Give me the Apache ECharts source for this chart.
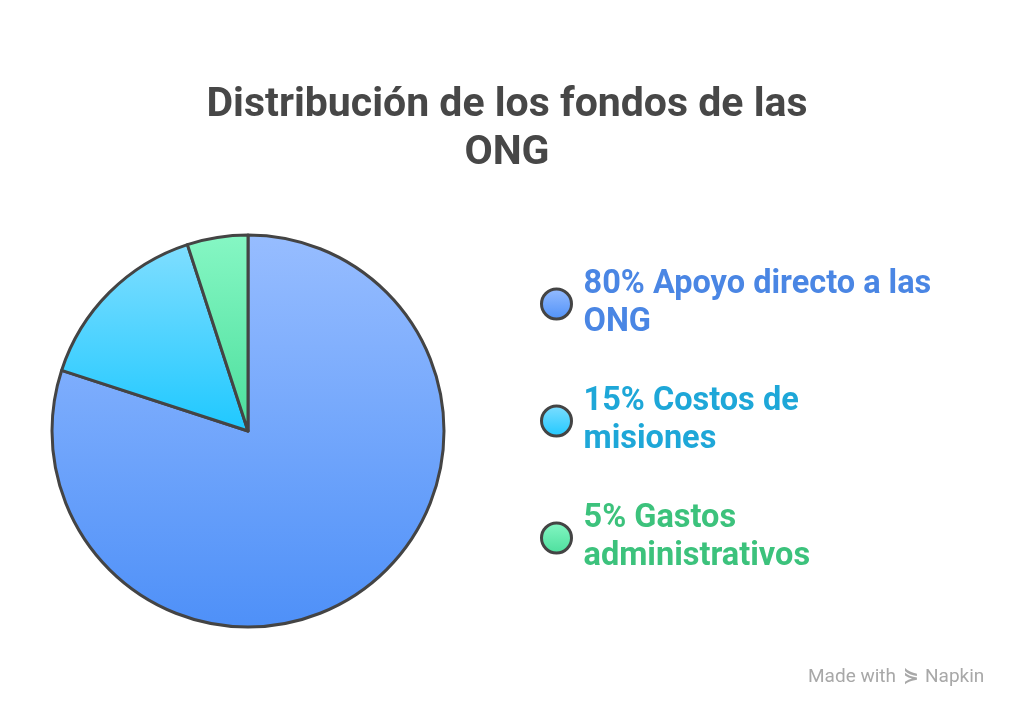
<!DOCTYPE html>
<html><head><meta charset="utf-8">
<script src="https://cdn.jsdelivr.net/npm/echarts@6/dist/echarts.min.js"></script>
<style>html,body{margin:0;padding:0;background:#fff}#c{width:1024px;height:724px}</style>
</head><body><div id="c"></div>
<script>
const categories = ['Apoyo directo a las ONG', 'Costos de misiones', 'Gastos administrativos'];
const values = [80, 15, 5];
const legendLines = ['80% Apoyo directo a las\nONG', '15% Costos de\nmisiones', '5% Gastos\nadministrativos'];
const sliceTop = ['#97bdff', '#80deff', '#86f7c4'];
const sliceBottom = ['#4e90f8', '#1ec8ff', '#4bde9c'];
const textColors = ['#4a86e4', '#1ea7d8', '#3cc27c'];

const chart = echarts.init(document.getElementById('c'));
const grad = (i) => new echarts.graphic.LinearGradient(0, 0, 0, 1, [
  {offset: 0, color: sliceTop[i]}, {offset: 1, color: sliceBottom[i]}]);

chart.setOption({
  animation: false,
  title: {
    text: 'Distribución de los fondos de las\nONG',
    left: 502, top: 77, textAlign: 'center',
    textStyle: {fontFamily: 'Roboto', fontWeight: 'bold', fontSize: 41, color: '#474747', lineHeight: 48}
  },
  legend: {
    orient: 'vertical', left: 535, top: 261,
    itemWidth: 30, itemHeight: 30, itemGap: 41,
    icon: 'circle',
    data: categories.map((c, i) => ({
      name: c,
      itemStyle: {color: grad(i), borderColor: '#444', borderWidth: 3},
      textStyle: {color: textColors[i]}
    })),
    formatter: (n) => legendLines[categories.indexOf(n)],
    textStyle: {fontFamily: 'Roboto', fontWeight: 'bold', fontSize: 32.5, lineHeight: 38, padding: [0, 0, 0, 7]}
  },
  series: [{
    type: 'pie', center: [248, 431], radius: [0, 196], startAngle: 90, clockwise: true,
    label: {show: false}, labelLine: {show: false}, silent: true,
    itemStyle: {borderColor: '#444', borderWidth: 3},
    data: categories.map((c, i) => ({name: c, value: values[i], itemStyle: {color: grad(i)}}))
  }],
  graphic: [
    {type: 'text', left: 808, top: 668, style: {text: 'Made with', fill: '#a8a8a8', font: '19px Roboto'}},
    {type: 'text', left: 903, top: 667, style: {text: '⋟', fill: '#a8a8a8', font: 'bold 19px DejaVu Sans'}},
    {type: 'text', left: 925, top: 668, style: {text: 'Napkin', fill: '#a8a8a8', font: '19px Roboto'}}
  ]
});
</script></body></html>
